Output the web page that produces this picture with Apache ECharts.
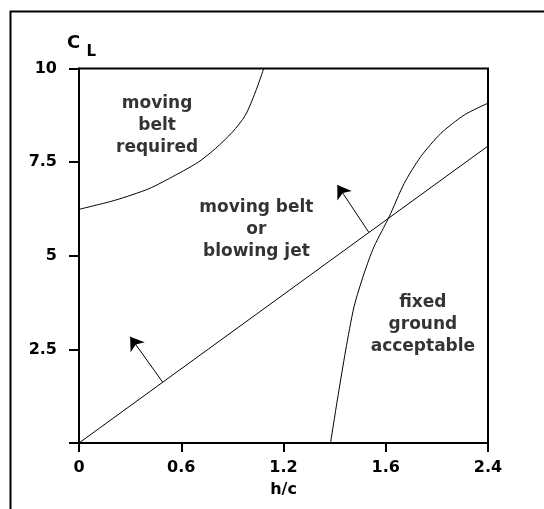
<!DOCTYPE html>
<html>
<head>
<meta charset="utf-8">
<script src="https://cdn.jsdelivr.net/npm/echarts@6/dist/echarts.min.js"></script>
<style>
  html, body { margin: 0; padding: 0; background: #fff; }
  #chart { width: 544px; height: 509px; }
</style>
</head>
<body>
<div id="chart"></div>
<script>
// ---- data ----
var xTickLabels = ['0', '0.6', '1.2', '1.6', '2.4'];
var yTickLabels = ['', '2.5', '5', '7.5', '10'];

// boundary: moving belt required
var beltRequiredX = [0.0, 0.21, 0.41, 0.565, 0.70, 0.80, 0.90, 0.976, 1.035, 1.084];
var beltRequiredY = [6.24, 6.48, 6.79, 7.15, 7.50, 7.86, 8.30, 8.75, 9.37, 10.0];

// straight boundary line
var lineX = [0.0, 2.4];
var lineY = [0.0, 7.93];

// boundary: fixed ground acceptable
var fixedX = [1.476, 1.516, 1.565, 1.614, 1.673, 1.731, 1.82, 1.908, 2.006, 2.124, 2.261, 2.398];
var fixedY = [0.0, 1.15, 2.48, 3.64, 4.53, 5.24, 6.04, 6.93, 7.65, 8.27, 8.76, 9.07];

// arrows: [fromX, fromY, toX, toY]
var arrow1 = [0.49, 1.63, 0.30, 2.84];
var arrow2 = [1.70, 5.63, 1.516, 6.89];

// region labels
var regionLabels = ['moving\nbelt\nrequired', 'moving belt\nor\nblowing jet', 'fixed\nground\nacceptable'];
var regionX = [0.458, 1.041, 2.018];
var regionY = [8.47, 5.70, 3.16];

function zip(xs, ys) { return xs.map(function (x, i) { return [x, ys[i]]; }); }

var FONT = '"DejaVu Sans", sans-serif';
var chart = echarts.init(document.getElementById('chart'), null, { renderer: 'canvas' });

var lineStyle = { color: '#000', width: 1 };

var option = {
  animation: false,
  backgroundColor: '#fff',
  grid: {
    left: 79, right: 56, top: 68.5, bottom: 66,
    show: true, borderColor: '#000', borderWidth: 2, containLabel: false
  },
  xAxis: {
    type: 'value', min: 0, max: 2.4, interval: 0.6,
    name: 'h/c', nameLocation: 'middle', nameGap: 39,
    nameTextStyle: { color: '#000', fontFamily: FONT, fontWeight: 'bold', fontSize: 16 },
    axisLine: { show: true, onZero: false, lineStyle: { color: '#000', width: 2 } },
    axisTick: { show: true, inside: false, length: 9, lineStyle: { color: '#000', width: 2 } },
    axisLabel: {
      color: '#000', fontFamily: FONT, fontWeight: 'bold', fontSize: 16, margin: 17,
      formatter: function (v) { return xTickLabels[Math.round(v / 0.6)]; }
    },
    splitLine: { show: false }
  },
  yAxis: {
    type: 'value', min: 0, max: 10, interval: 2.5,
    axisLine: { show: true, onZero: false, lineStyle: { color: '#000', width: 2 } },
    axisTick: { show: true, inside: false, length: 10, lineStyle: { color: '#000', width: 2 } },
    axisLabel: {
      color: '#000', fontFamily: FONT, fontWeight: 'bold', fontSize: 16, margin: 22,
      formatter: function (v) { return yTickLabels[Math.round(v / 2.5)]; }
    },
    splitLine: { show: false }
  },
  graphic: [
    { type: 'polyline', shape: { points: [[10.5, 509], [10.5, 11.5], [544, 11.5]] },
      style: { stroke: '#000', lineWidth: 2, fill: null } },
    { type: 'text', x: 67, y: 43.5,
      style: { text: 'C', font: 'bold 18px ' + FONT, fill: '#000', align: 'left', verticalAlign: 'middle', textAlign: 'left', textVerticalAlign: 'middle' } },
    { type: 'text', x: 86.5, y: 52.5,
      style: { text: 'L', font: 'bold 15px ' + FONT, fill: '#000', align: 'left', verticalAlign: 'middle', textAlign: 'left', textVerticalAlign: 'middle' } }
  ],
  series: [
    { type: 'line', data: zip(beltRequiredX, beltRequiredY), smooth: 0.25, showSymbol: false, lineStyle: lineStyle, silent: true },
    { type: 'line', data: zip(lineX, lineY), showSymbol: false, lineStyle: lineStyle, silent: true },
    { type: 'line', data: zip(fixedX, fixedY), smooth: 0.25, showSymbol: false, lineStyle: lineStyle, silent: true },
    {
      type: 'lines', coordinateSystem: 'cartesian2d', silent: true,
      symbol: ['none', 'arrow'], symbolSize: [6, 13],
      lineStyle: { color: '#000', width: 1, opacity: 1 },
      data: [
        { coords: [[arrow1[0], arrow1[1]], [arrow1[2], arrow1[3]]] },
        { coords: [[arrow2[0], arrow2[1]], [arrow2[2], arrow2[3]]] }
      ]
    },
    {
      type: 'scatter', symbolSize: 0, silent: true,
      data: regionX.map(function (x, i) { return { value: [x, regionY[i]], name: regionLabels[i] }; }),
      label: {
        show: true, position: 'inside', formatter: function (p) { return p.name; },
        color: '#000', fontFamily: FONT, fontWeight: 'bold', fontSize: 17, lineHeight: 22, align: 'center', verticalAlign: 'middle'
      }
    }
  ]
};
chart.setOption(option);
</script>
</body>
</html>
